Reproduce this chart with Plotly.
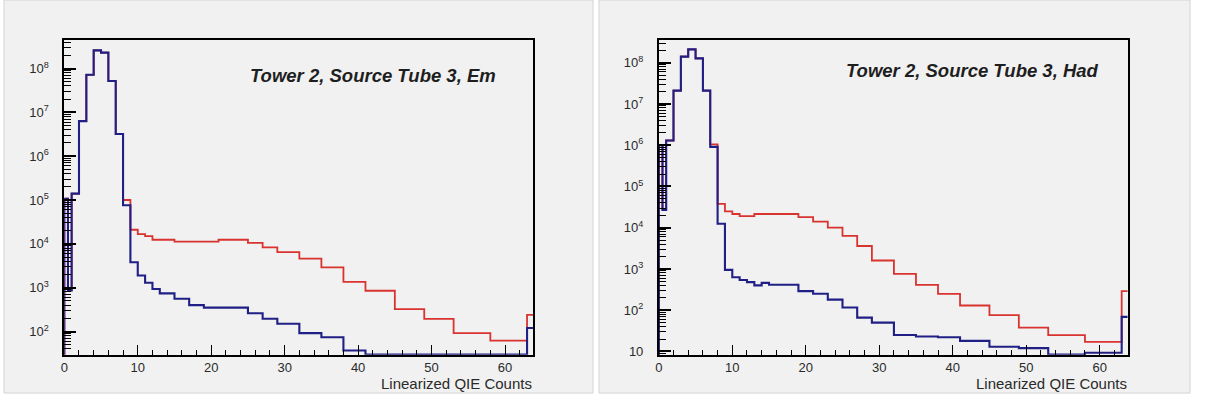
import plotly.graph_objects as go

# ---------------- data ----------------
# bin edges of the linearized QIE histogram (shared by both panels)
edges = [0, 0.5, 1, 2, 3, 4, 5, 6, 7, 8, 9, 10, 11, 12, 13, 14, 15, 17, 19, 21,
         23, 25, 27, 29, 32, 35, 38, 41, 45, 49, 53, 58, 63, 64]

# Left panel: Tower 2, Source Tube 3, Em
em_blue = [1.07e5, 870, 1.4e5, 6.3e6, 7.2e7, 2.6e8, 2.3e8, 5.2e7, 3.2e6, 7.6e4,
           3.8e3, 1.9e3, 1.3e3, 930, 740, 740, 560, 400, 350, 350,
           350, 260, 195, 150, 92, 74, 37, 30, 30, 30, 30, 30, 120]
em_red = [1.07e5, 870, 1.4e5, 6.3e6, 7.2e7, 2.6e8, 2.3e8, 5.2e7, 3.2e6, 1.0e5,
          2.1e4, 1.66e4, 1.5e4, 1.24e4, 1.24e4, 1.24e4, 1.12e4, 1.12e4, 1.12e4, 1.24e4,
          1.24e4, 1.05e4, 8.3e3, 6.5e3, 4.6e3, 2.9e3, 1.35e3, 850, 325, 195, 92, 62, 240]

# Right panel: Tower 2, Source Tube 3, Had
had_blue = [1.0e6, 2.7e4, 1.3e6, 2.1e7, 1.4e8, 2.1e8, 1.27e8, 2.1e7, 9.1e5, 1.25e4,
            950, 630, 540, 480, 400, 460, 415, 415, 290, 250,
            180, 116, 66, 50, 25, 23, 22, 18, 13, 12, 8.4, 9.3, 69]
had_red = [1.0e6, 2.7e4, 1.3e6, 2.1e7, 1.4e8, 2.1e8, 1.27e8, 2.1e7, 1.05e6, 3.8e4,
           2.5e4, 2.15e4, 1.9e4, 1.9e4, 2.15e4, 2.15e4, 2.15e4, 2.15e4, 1.8e4, 1.4e4,
           1.0e4, 6.3e3, 3.6e3, 1.6e3, 760, 410, 250, 130, 76, 38, 25, 17, 290]

panel_titles = ["Tower 2, Source Tube 3, Em", "Tower 2, Source Tube 3, Had"]
x_title = "Linearized QIE Counts"
left_ytick_vals = [1e2, 1e3, 1e4, 1e5, 1e6, 1e7, 1e8]
left_ytick_text = ["10<sup>2</sup>", "10<sup>3</sup>", "10<sup>4</sup>", "10<sup>5</sup>",
                   "10<sup>6</sup>", "10<sup>7</sup>", "10<sup>8</sup>"]
right_ytick_vals = [1e1, 1e2, 1e3, 1e4, 1e5, 1e6, 1e7, 1e8]
right_ytick_text = ["10", "10<sup>2</sup>", "10<sup>3</sup>", "10<sup>4</sup>", "10<sup>5</sup>",
                    "10<sup>6</sup>", "10<sup>7</sup>", "10<sup>8</sup>"]

# ---------------- styling ----------------
W, H = 1205, 403
BLUE = "#1f1f85"
RED = "#d8332f"
BG = "#f1f1f1"
FONT = "Liberation Sans, Arial, sans-serif"


def step_xy(e, v, floor=1e-3):
    xs = [e[0]] + list(e) + [e[-1]]
    ys = [floor] + list(v) + [v[-1], floor]
    return xs, ys


fig = go.Figure()

for vals, color, width, xa, ya in [
    (em_red, RED, 1.8, "x", "y"),
    (em_blue, BLUE, 2.1, "x", "y"),
    (had_red, RED, 1.8, "x2", "y2"),
    (had_blue, BLUE, 2.1, "x2", "y2"),
]:
    xs, ys = step_xy(edges, vals)
    fig.add_trace(go.Scatter(x=xs, y=ys, mode="lines", line=dict(color=color, width=width, shape="hv"),
                             xaxis=xa, yaxis=ya, showlegend=False, hoverinfo="skip"))

def px_x(p):
    return p / W

def px_y(p):
    return 1 - p / H

ydom = [px_y(358.3), px_y(40)]
xdom1 = [px_x(60.5), px_x(530.7)]
xdom2 = [px_x(657), px_x(1127.3)]

xcommon = dict(range=[0, 63.8], tickmode="linear", tick0=0, dtick=10, ticks="inside", ticklen=10,
               tickwidth=1.3, tickcolor="black", showline=True, linecolor="black", linewidth=1.7,
               mirror=True, showgrid=False, zeroline=False, ticklabelstandoff=0,
               tickfont=dict(family=FONT, size=13, color="#2a2a2a"),
               minor=dict(dtick=2, ticks="inside", ticklen=5, tickcolor="black", tickwidth=1.3, showgrid=False))
ycommon = dict(type="log", tickmode="array", ticks="inside", ticklen=12, tickwidth=1.6, tickcolor="black",
               showline=True, linecolor="black", linewidth=1.7, mirror=True, showgrid=False, zeroline=False,
               tickfont=dict(family=FONT, size=13, color="#2a2a2a"), ticklabelstandoff=11,
               minor=dict(dtick="D1", ticks="inside", ticklen=7, tickcolor="black", tickwidth=1.1, showgrid=False))

fig.update_layout(
    width=W, height=H, margin=dict(l=0, r=0, t=0, b=0),
    paper_bgcolor="white", plot_bgcolor=BG,
    xaxis=dict(domain=xdom1, anchor="y", **xcommon),
    yaxis=dict(domain=ydom, anchor="x", range=[1.47, 8.66], tickvals=left_ytick_vals,
               ticktext=left_ytick_text, **ycommon),
    xaxis2=dict(domain=xdom2, anchor="y2", **xcommon),
    yaxis2=dict(domain=ydom, anchor="x2", range=[0.92, 8.56], tickvals=right_ytick_vals,
                ticktext=right_ytick_text, **ycommon),
    shapes=[
        dict(type="rect", xref="paper", yref="paper", x0=0, x1=px_x(591), y0=px_y(397), y1=1,
             fillcolor=BG, line=dict(color="#d4d4d4", width=1), layer="below"),
        dict(type="rect", xref="paper", yref="paper", x0=px_x(597), x1=px_x(1190), y0=px_y(397), y1=1,
             fillcolor=BG, line=dict(color="#d4d4d4", width=1), layer="below"),
    ],
    annotations=[
        dict(text="<b><i>" + panel_titles[0] + "</i></b>", xref="paper", yref="paper",
             x=px_x(245), y=px_y(76), xanchor="left", yanchor="middle", showarrow=False,
             font=dict(family=FONT, size=18.5, color="#1e1e1e")),
        dict(text="<b><i>" + panel_titles[1] + "</i></b>", xref="paper", yref="paper",
             x=px_x(843), y=px_y(71), xanchor="left", yanchor="middle", showarrow=False,
             font=dict(family=FONT, size=18.5, color="#1e1e1e")),
        dict(text=x_title, xref="paper", yref="paper", x=px_x(531), y=px_y(377.5),
             xanchor="right", yanchor="top", showarrow=False, borderpad=0,
             font=dict(family=FONT, size=15, color="#2a2a2a")),
        dict(text=x_title, xref="paper", yref="paper", x=px_x(1128), y=px_y(377.5),
             xanchor="right", yanchor="top", showarrow=False, borderpad=0,
             font=dict(family=FONT, size=15, color="#2a2a2a")),
    ],
)

fig.write_html("out.html")
